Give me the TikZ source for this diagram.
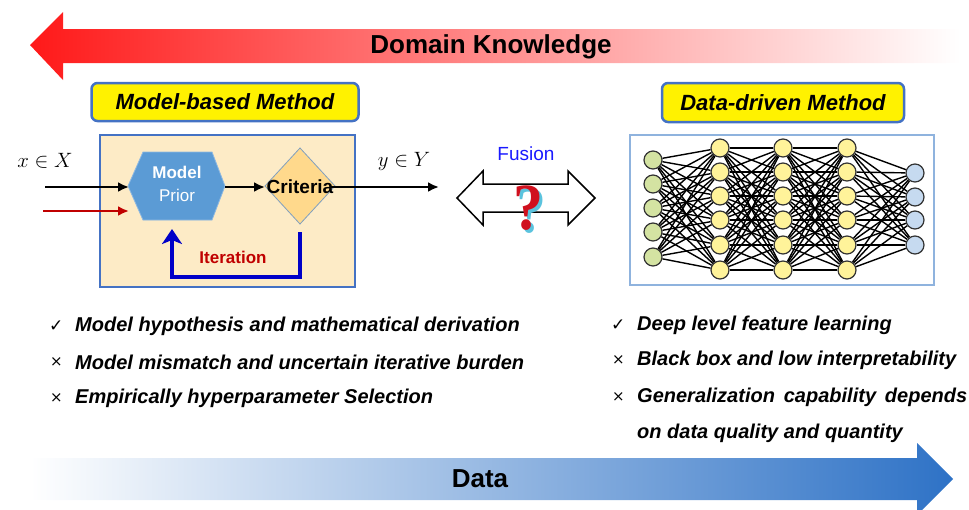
\documentclass[tikz,border=0pt]{standalone}
\usepackage{fontspec}
\setmainfont{Liberation Sans}
\newfontfamily\symfont{DejaVu Sans}
\newfontfamily\qfont{Liberation Serif}
\usetikzlibrary{arrows.meta,shapes.geometric,calc}

\definecolor{boxblue}{HTML}{4472C4}
\definecolor{lightbox}{HTML}{FDEBC6}
\definecolor{hexfill}{HTML}{5B9BD5}
\definecolor{hexedge}{HTML}{8DB8E2}
\definecolor{diafill}{HTML}{FFD98C}
\definecolor{diaedge}{HTML}{7F9FC0}
\definecolor{itblue}{HTML}{0000C8}
\definecolor{redarrow}{HTML}{C00000}
\definecolor{nngreen}{HTML}{D4E3A2}
\definecolor{nnyellow}{HTML}{FFF39A}
\definecolor{nnblue}{HTML}{C6DAF0}
\definecolor{nnframe}{HTML}{8FB3DE}
\definecolor{dkred}{RGB}{255,25,25}
\definecolor{datablue}{HTML}{2E72C6}
\definecolor{fusionblue}{HTML}{1A1AFF}
\definecolor{qred}{HTML}{D0101E}
\definecolor{qcyan}{HTML}{5BC3DE}

\pgfdeclarelayer{bg}
\pgfsetlayers{bg,main}

\tikzset{
  ybox/.style={draw=boxblue, line width=2.5pt, fill=yellow, rounded corners=6pt,
    font=\bfseries\itshape\fontsize{22}{26}\selectfont, inner sep=0pt},
  arr/.style={line width=2.6pt, -{Latex[length=11pt,width=10pt]}},
  neuron/.style={circle, draw=black!80, line width=1.2pt, minimum size=18pt, inner sep=0pt},
  synapse/.style={line width=1.4pt, black},
  bul/.style={anchor=west, font=\bfseries\itshape\fontsize{20}{24}\selectfont, inner sep=0pt},
  tick/.style={anchor=west, inner sep=0pt, font=\symfont\fontsize{17}{19}\selectfont},
  cross/.style={anchor=west, inner sep=0pt, font=\symfont\fontsize{15}{17}\selectfont},
}

\begin{document}
\begin{tikzpicture}[x=1pt, y=-1pt]
\useasboundingbox (0,0) rectangle (969,509);

% ---- domain knowledge arrow (pointing left) ----
\shade[left color=dkred, right color=white]
  (30,45) -- (63,12) -- (63,29) -- (960,29) -- (960,63) -- (63,63) -- (63,80) -- cycle;
\node[font=\bfseries\fontsize{26}{30}\selectfont] (dk) at (491,47) {Domain Knowledge};

% ---- data arrow (pointing right) ----
\begin{scope}
\clip (0,0) rectangle (969,509);
\shade[left color=white, right color=datablue]
  (30,458) -- (917,458) -- (917,443) -- (953,479) -- (917,515) -- (917,500) -- (30,500) -- cycle;
\end{scope}
\node[font=\bfseries\fontsize{26}{30}\selectfont] (data) at (480,479) {Data};

% ---- model-based method ----
\node[ybox, minimum width=267pt, minimum height=38pt] (mbm) at (225,102) {Model-based Method};
\node[draw=boxblue, line width=2pt, fill=lightbox, minimum width=255pt, minimum height=152pt, inner sep=0pt]
  (mbox) at (227.5,211) {};

% hexagon: model prior
\draw[fill=hexfill, draw=hexedge, line width=0.8pt]
  (128,186) -- (143,152) -- (212,152) -- (225,186) -- (212,220) -- (143,220) -- cycle;
\node[text=white, font=\bfseries\fontsize{17}{20}\selectfont] (hexa) at (177,172) {Model};
\node[text=white, font=\fontsize{17}{20}\selectfont] (hexb) at (177,195) {Prior};
\coordinate (hexW) at (129,187);
\coordinate (hexE) at (225,187);
\coordinate (hexS) at (172,229);

% diamond: criteria
\draw[fill=diafill, draw=diaedge, line width=0.8pt]
  (300,148) -- (335,186) -- (300,224) -- (265,186) -- cycle;
\coordinate (diaW) at (265,187);
\coordinate (diaE) at (330,187);
\coordinate (diaS) at (300,232);

% signal flow
\coordinate (xin) at (45,187);
\coordinate (rin) at (43,211);
\coordinate (rend) at (129,211);
\coordinate (yout) at (439,187);
\draw[arr] (xin) -- (hexW);
\draw[arr, redarrow, line width=2.2pt] (rin) -- (rend);
\draw[arr] (hexE) -- (diaW);
\draw[arr] (diaE) -- (yout);
\node[font=\bfseries\fontsize{19}{22}\selectfont, inner sep=0pt] (crit) at (300,187) {Criteria};

\draw[itblue, line width=4pt, line join=miter,
      -{Stealth[length=15pt,width=20pt,inset=4pt]}]
  (diaS) -- (300,277) -- (172,277) -- (hexS);
\node[text=redarrow, font=\bfseries\fontsize{17}{20}\selectfont] (iter) at (233,257) {Iteration};

\node[font=\fontsize{22}{26}\selectfont] (xlab) at (45,161) {$x \in X$};
\node[font=\fontsize{22}{26}\selectfont] (ylab) at (404,161) {$y \in Y$};

% ---- fusion ----
\node[text=fusionblue, font=\fontsize{19}{22}\selectfont] (fus) at (526,154) {Fusion};
\draw[line width=1.5pt, fill=white]
  (457,198) -- (483,171) -- (483,184) -- (568,184) -- (568,171) -- (595,198)
  -- (568,225) -- (568,212) -- (483,212) -- (483,225) -- cycle;
\node[text=qcyan, font=\qfont\bfseries\fontsize{60}{60}\selectfont, inner sep=0pt, yscale=1.1] (qs) at (531,211) {?};
\node[text=qred, font=\qfont\bfseries\fontsize{60}{60}\selectfont, inner sep=0pt, yscale=1.1] (q) at (528,208) {?};

% ---- data-driven method ----
\node[ybox, minimum width=242pt, minimum height=39pt] (ddm) at (783,102.5) {Data-driven Method};
\draw[nnframe, line width=1.2pt] (630,135) rectangle (934,285);

\foreach \i/\y in {1/160,2/184,3/208,4/232,5/257}
  \node[neuron, fill=nngreen] (a\i) at (653,\y) {};
\foreach \l/\x in {b/720,c/783,d/847}
  \foreach \i/\y in {1/148,2/172,3/196,4/220,5/245,6/270}
    \node[neuron, fill=nnyellow] (\l\i) at (\x,\y) {};
\foreach \i/\y in {1/173,2/197,3/220,4/245}
  \node[neuron, fill=nnblue] (e\i) at (915,\y) {};

\begin{pgfonlayer}{bg}
\foreach \i in {1,...,5}
  \foreach \j in {1,...,6}
    \draw[synapse] (a\i) -- (b\j);
\foreach \i in {1,...,6}
  \foreach \j in {1,...,6} {
    \draw[synapse] (b\i) -- (c\j);
    \draw[synapse] (c\i) -- (d\j);
  }
\foreach \i in {1,...,6}
  \foreach \j in {1,...,4}
    \draw[synapse] (d\i) -- (e\j);
\end{pgfonlayer}

% ---- pros and cons ----
\node[tick] (lm1) at (49,326) {✓};
\node[bul] (lt1) at (75,326) {Model hypothesis and mathematical derivation};
\node[cross] (lm2) at (50,362) {×};
\node[bul] (lt2) at (75,362) {Model mismatch and uncertain iterative burden};
\node[cross] (lm3) at (50,398) {×};
\node[bul] (lt3) at (75,398) {Empirically hyperparameter Selection};

\node[tick] (rm1) at (611,325) {✓};
\node[bul] (rt1) at (637,325) {Deep level feature learning};
\node[cross] (rm2) at (612,360) {×};
\node[bul] (rt2) at (637,360) {Black box and low interpretability};
\node[cross] (rm3) at (612,397) {×};
\node[bul] (rt3) at (637,397) {\makebox[330pt][s]{Generalization capability depends}};
\node[bul] (rt4) at (637,433) {on data quality and quantity};
\end{tikzpicture}
\end{document}
